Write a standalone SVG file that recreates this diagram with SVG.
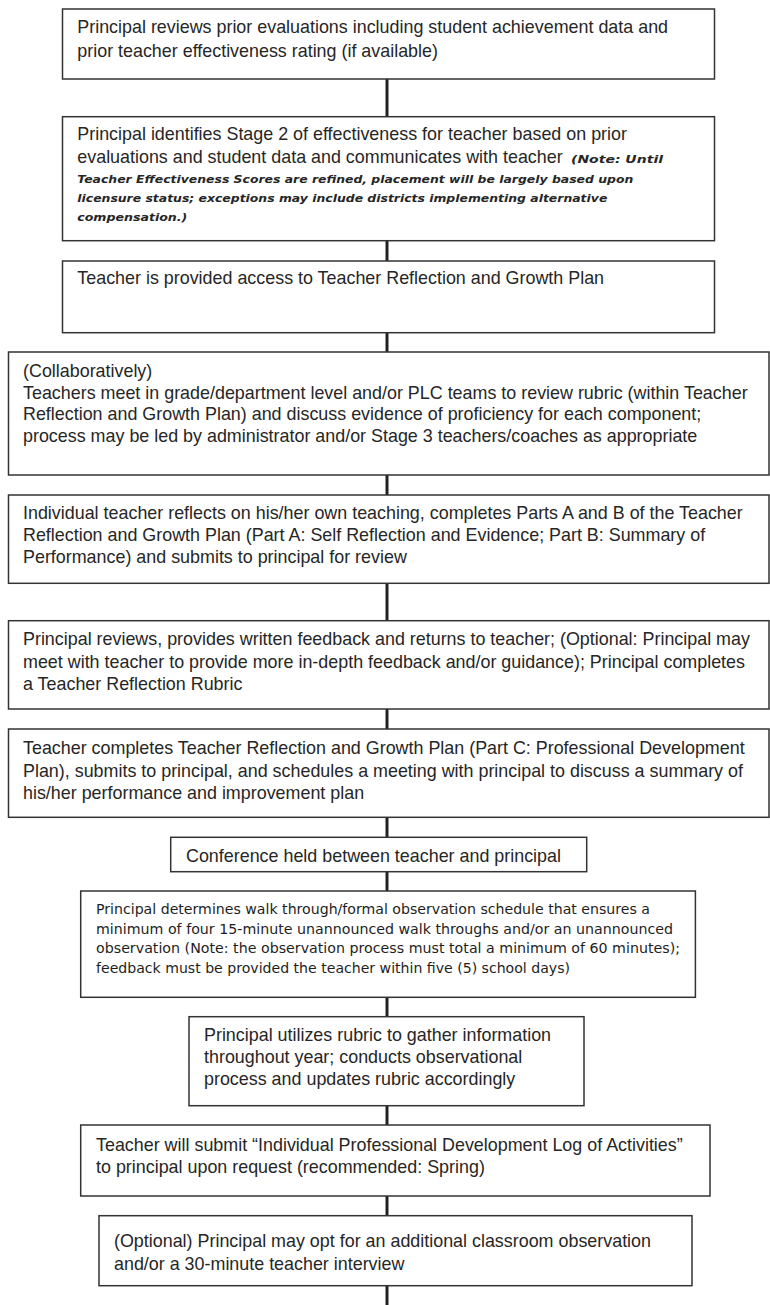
<svg xmlns="http://www.w3.org/2000/svg" width="770" height="1305" viewBox="0 0 770 1305">
<style>
  .box { fill: #ffffff; stroke: #333333; stroke-width: 1.5; }
  .t { font-family: "Liberation Sans", Arial, sans-serif; font-size: 17.9px; fill: #262626; }
  .it { font-family: "DejaVu Sans", "Liberation Sans", sans-serif; font-size: 11px; font-style: italic; font-weight: bold; fill: #262626; }
  .sm { font-family: "DejaVu Sans", "Liberation Sans", sans-serif; font-size: 13.5px; fill: #1e1e1e; }
  .conn { stroke: #222222; stroke-width: 3; fill: none; }
</style>
<rect x="0" y="0" width="770" height="1305" fill="#ffffff"/>
<g id="connectors">
  <line class="conn" x1="387" y1="79" x2="387" y2="117"/>
  <line class="conn" x1="387" y1="240.5" x2="387" y2="261"/>
  <line class="conn" x1="387" y1="332.5" x2="387" y2="352"/>
  <line class="conn" x1="387" y1="475" x2="387" y2="495"/>
  <line class="conn" x1="387" y1="583.5" x2="387" y2="620.5"/>
  <line class="conn" x1="387" y1="709" x2="387" y2="729"/>
  <line class="conn" x1="387" y1="817.5" x2="387" y2="837.5"/>
  <line class="conn" x1="387" y1="871.5" x2="387" y2="891"/>
  <line class="conn" x1="387" y1="997.5" x2="387" y2="1016.5"/>
  <line class="conn" x1="387" y1="1105.5" x2="387" y2="1125"/>
  <line class="conn" x1="387" y1="1196" x2="387" y2="1215.5"/>
  <line class="conn" x1="387" y1="1285.5" x2="387" y2="1305"/>
</g>
<g id="node1">
  <rect class="box" x="62.5" y="9" width="652" height="70"/>
  <text class="t" x="77.3" y="33">Principal reviews prior evaluations including student achievement data and</text>
  <text class="t" x="77.3" y="56.5">prior teacher effectiveness rating (if available)</text>
</g>
<g id="node2">
  <rect class="box" x="62.5" y="116.7" width="652" height="124"/>
  <text class="t" x="77.3" y="140">Principal identifies Stage 2 of effectiveness for teacher based on prior</text>
  <text class="t" x="77.3" y="163">evaluations and student data and communicates with teacher</text>
  <text class="it" x="571" y="163" textLength="92" lengthAdjust="spacingAndGlyphs">(Note: Until</text>
  <text class="it" x="77.3" y="182.5" textLength="556" lengthAdjust="spacingAndGlyphs">Teacher Effectiveness Scores are refined, placement will be largely based upon</text>
  <text class="it" x="77.3" y="201.5" textLength="530" lengthAdjust="spacingAndGlyphs">licensure status; exceptions may include districts implementing alternative</text>
  <text class="it" x="77.3" y="220.5" textLength="110" lengthAdjust="spacingAndGlyphs">compensation.)</text>
</g>
<g id="node3">
  <rect class="box" x="62.5" y="261" width="652" height="71.7"/>
  <text class="t" x="77.3" y="283.5">Teacher is provided access to Teacher Reflection and Growth Plan</text>
</g>
<g id="node4">
  <rect class="box" x="8.5" y="352" width="760.5" height="123"/>
  <text class="t" x="23" y="376.5">(Collaboratively)</text>
  <text class="t" x="23" y="398.5">Teachers meet in grade/department level and/or PLC teams to review rubric (within Teacher</text>
  <text class="t" x="23" y="420">Reflection and Growth Plan) and discuss evidence of proficiency for each component;</text>
  <text class="t" x="23" y="441.5">process may be led by administrator and/or Stage 3 teachers/coaches as appropriate</text>
</g>
<g id="node5">
  <rect class="box" x="8.5" y="495" width="760.5" height="88.3"/>
  <text class="t" x="23" y="519">Individual teacher reflects on his/her own teaching, completes Parts A and B of the Teacher</text>
  <text class="t" x="23" y="541">Reflection and Growth Plan (Part A: Self Reflection and Evidence; Part B: Summary of</text>
  <text class="t" x="23" y="563">Performance) and submits to principal for review</text>
</g>
<g id="node6">
  <rect class="box" x="8.5" y="620.7" width="760.5" height="88.3"/>
  <text class="t" x="23" y="645">Principal reviews, provides written feedback and returns to teacher; (Optional: Principal may</text>
  <text class="t" x="23" y="667.5">meet with teacher to provide more in-depth feedback and/or guidance); Principal completes</text>
  <text class="t" x="23" y="690">a Teacher Reflection Rubric</text>
</g>
<g id="node7">
  <rect class="box" x="8.5" y="729" width="760.5" height="88.3"/>
  <text class="t" x="23" y="754">Teacher completes Teacher Reflection and Growth Plan (Part C: Professional Development</text>
  <text class="t" x="23" y="776.5">Plan), submits to principal, and schedules a meeting with principal to discuss a summary of</text>
  <text class="t" x="23" y="799">his/her performance and improvement plan</text>
</g>
<g id="node8">
  <rect class="box" x="170.7" y="837.3" width="416" height="34.4"/>
  <text class="t" x="186" y="862">Conference held between teacher and principal</text>
</g>
<g id="node9">
  <rect class="box" x="80.7" y="891" width="614.7" height="106.3"/>
  <text class="sm" x="96" y="914" textLength="554" lengthAdjust="spacingAndGlyphs">Principal determines walk through/formal observation schedule that ensures a</text>
  <text class="sm" x="96" y="933.5" textLength="577" lengthAdjust="spacingAndGlyphs">minimum of four 15-minute unannounced walk throughs and/or an unannounced</text>
  <text class="sm" x="96" y="953" textLength="584" lengthAdjust="spacingAndGlyphs">observation (Note: the observation process must total a minimum of 60 minutes);</text>
  <text class="sm" x="96" y="972.5" textLength="474" lengthAdjust="spacingAndGlyphs">feedback must be provided the teacher within five (5) school days)</text>
</g>
<g id="node10">
  <rect class="box" x="189" y="1016.7" width="395" height="89"/>
  <text class="t" x="204" y="1041">Principal utilizes rubric to gather information</text>
  <text class="t" x="204" y="1063">throughout year; conducts observational</text>
  <text class="t" x="204" y="1085">process and updates rubric accordingly</text>
</g>
<g id="node11">
  <rect class="box" x="80.7" y="1125" width="629.3" height="71"/>
  <text class="t" x="96" y="1151">Teacher will submit “Individual Professional Development Log of Activities”</text>
  <text class="t" x="96" y="1172.5">to principal upon request (recommended: Spring)</text>
</g>
<g id="node12">
  <rect class="box" x="99" y="1215.7" width="593" height="70"/>
  <text class="t" x="114" y="1247">(Optional) Principal may opt for an additional classroom observation</text>
  <text class="t" x="114" y="1269.5">and/or a 30-minute teacher interview</text>
</g>
</svg>
